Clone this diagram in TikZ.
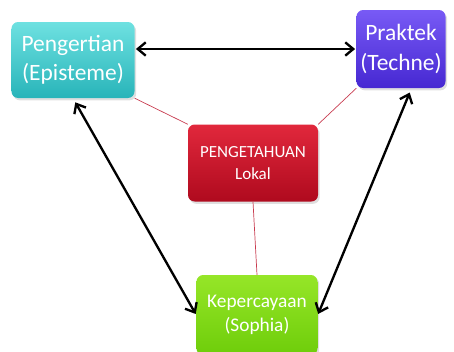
\documentclass[tikz,border=0pt]{standalone}
\usepackage{fontspec}
\setmainfont{Carlito}
\usetikzlibrary{arrows.meta,shadows}
\begin{document}
\begin{tikzpicture}[x=0.03cm,y=-0.03cm,
    box/.style = {rectangle,rounded corners=2mm,text=white,align=center,inner sep=1mm,
                  drop shadow={opacity=0.25,shadow xshift=0.5mm,shadow yshift=-0.7mm}},
    link/.style = {draw={rgb,255:red,200;green,60;blue,80},semithick},
    biarrow/.style = {draw=black,line width=2pt,{Straight Barb[length=2.4mm,width=4mm]}-{Straight Barb[length=2.4mm,width=4mm]}}]
\useasboundingbox (0,0) rectangle (454,351);
\node[box,top color={rgb,255:red,110;green,225;blue,225},bottom color={rgb,255:red,40;green,180;blue,185},
      minimum width=3.69cm,minimum height=2.28cm,font=\fontsize{20}{25}\selectfont] (peng) at (73,60) {Pengertian\\(Episteme)};
\node[box,top color={rgb,255:red,120;green,90;blue,245},bottom color={rgb,255:red,70;green,40;blue,210},
      minimum width=2.67cm,minimum height=2.34cm,font=\fontsize{20}{25}\selectfont] (prak) at (401,49) {Praktek\\(Techne)};
\node[box,top color={rgb,255:red,225;green,40;blue,60},bottom color={rgb,255:red,175;green,10;blue,30},
      minimum width=3.9cm,minimum height=2.31cm,font=\fontsize{14.5}{19}\selectfont] (lokal) at (253,163) {PENGETAHUAN\\Lokal};
\node[box,top color={rgb,255:red,150;green,230;blue,40},bottom color={rgb,255:red,110;green,205;blue,10},
      minimum width=3.63cm,minimum height=2.4cm,font=\fontsize{16.5}{21}\selectfont] (kep) at (257,315) {Kepercayaan\\(Sophia)};
% garis ke pusat
\draw[link] (peng.south east) -- (lokal.north west);
\draw[link] (prak.south west) -- (lokal.north east);
\draw[link] (lokal.south) -- (kep.north);
% panah dua arah
\draw[biarrow,shorten <=1pt,shorten >=1pt] (prak.west -| peng.east) -- (prak.west);
\draw[biarrow,shorten <=4pt,shorten >=1pt] (peng.south) -- (kep.west);
\draw[biarrow,shorten <=4pt,shorten >=1pt] (prak.-75) -- (kep.east);
\end{tikzpicture}
\end{document}
